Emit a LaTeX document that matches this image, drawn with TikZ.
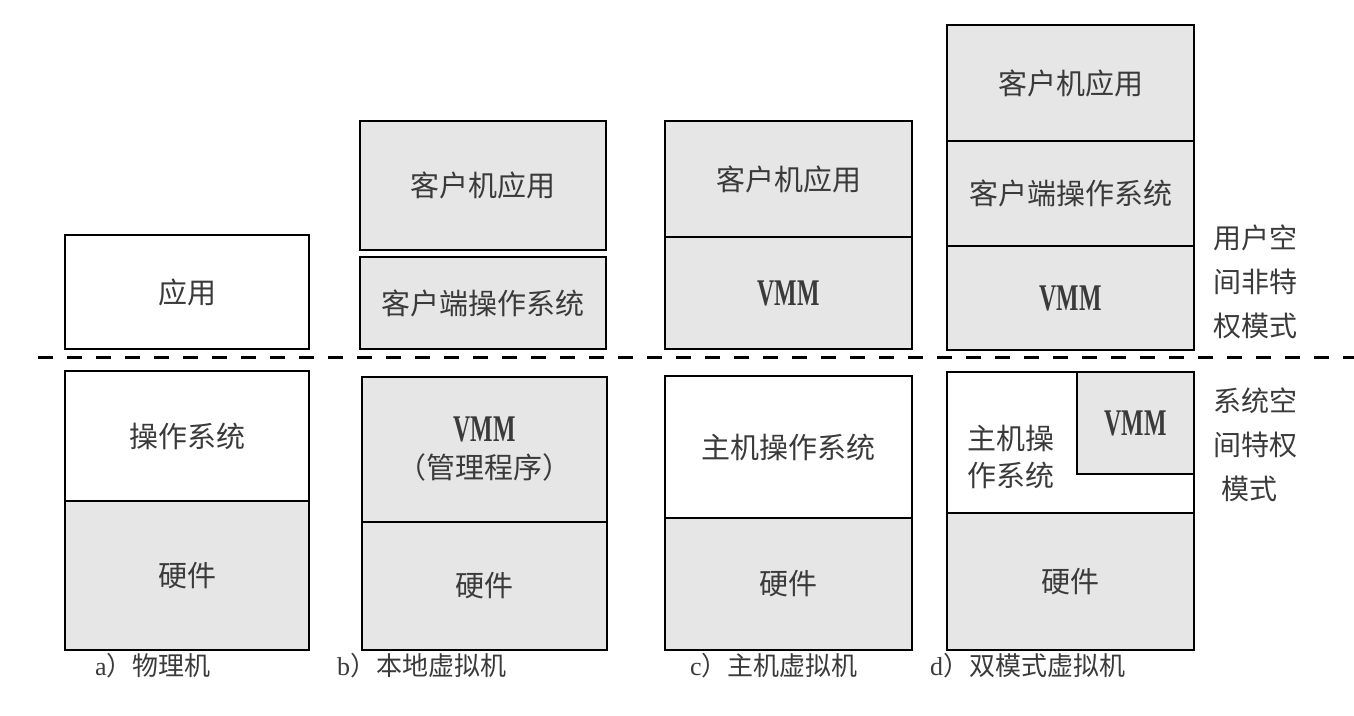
\documentclass[tikz,border=0pt]{standalone}
\usepackage{fontspec}
\setmainfont{Liberation Serif}
\newfontfamily\cjk{Noto Sans CJK SC}
\definecolor{boxgray}{HTML}{E6E6E6}
\definecolor{txt}{HTML}{3A3A3A}
\newcommand{\vmmtext}{{\rmfamily\bfseries\scalebox{0.82}[1.3]{VMM}}}
\begin{document}
\begin{tikzpicture}[x=1pt,y=-1pt,
  lay/.style={draw=black,line width=2pt,inner sep=0pt,outer sep=0pt,
    text=txt,font=\cjk\fontsize{29}{37}\selectfont,align=center},
  gbox/.style={lay,fill=boxgray},
  wbox/.style={lay,fill=white},
  side/.style={text=txt,font=\cjk\fontsize{28}{44}\selectfont,align=left,inner sep=0pt},
  captext/.style={text=txt,font=\fontsize{26}{30}\selectfont,anchor=west,inner sep=0pt}]
\useasboundingbox (0,0) rectangle (1354,715);
% a) physical machine
\node[wbox,minimum width=244pt,minimum height=114pt] (a1) at (187,292) {应用};
\node[wbox,minimum width=244pt,minimum height=130pt] (a2) at (187,436) {操作系统};
\node[gbox,minimum width=244pt,minimum height=149pt] (a3) at (187,575.5) {硬件};
% b) native VM
\node[gbox,minimum width=246pt,minimum height=129pt] (b1) at (483,185.5) {\raisebox{-8pt}{客户机应用}};
\node[gbox,minimum width=246pt,minimum height=92pt] (b2) at (483,303) {客户端操作系统};
\node[gbox,minimum width=245pt,minimum height=145pt] (b3) at (484.5,449.5) {\vmmtext\\（管理程序）};
\node[gbox,minimum width=245pt,minimum height=128pt] (b4) at (484.5,586) {硬件};
% c) hosted VM
\node[gbox,minimum width=247pt,minimum height=116pt] (c1) at (788.5,179) {\raisebox{-5pt}{客户机应用}};
\node[gbox,minimum width=247pt,minimum height=112pt] (c2) at (788.5,293) {\vmmtext};
\node[wbox,minimum width=247pt,minimum height=142pt] (c3) at (788.5,447) {主机操作系统};
\node[gbox,minimum width=247pt,minimum height=132pt] (c4) at (788.5,584) {硬件};
% d) dual-mode VM
\node[gbox,minimum width=247pt,minimum height=116pt] (d1) at (1070.5,83) {客户机应用};
\node[gbox,minimum width=247pt,minimum height=105pt] (d2) at (1070.5,193.5) {客户端操作系统};
\node[gbox,minimum width=247pt,minimum height=104pt] (d3) at (1070.5,298) {\vmmtext};
\node[wbox,minimum width=247pt,minimum height=141pt] (d4) at (1070.5,442.5) {};
\node[lay,draw=none,fill=none] (d4t) at (1011,457) {主机操\\作系统};
\node[gbox,minimum width=117pt,minimum height=102pt] (d5) at (1135.5,423) {\vmmtext};
\node[gbox,minimum width=247pt,minimum height=137pt] (d6) at (1070.5,581.5) {硬件};
% dashed separator
\coordinate (s1) at (38,357);
\coordinate (s2) at (1354,357);
\draw[line width=3pt,dash pattern=on 15pt off 14pt] (s1) -- (s2);
% side labels
\node[side,anchor=north west] (u) at (1213,225) {用户空\\间非特\\权模式};
\node[side,anchor=north west] (k) at (1213,388) {系统空\\间特权\\\hspace*{0.3em}模式};
% captions
\node[captext] (ca) at (95,666) {a{\cjk）物理机}};
\node[captext] (cb) at (337,666) {b{\cjk）本地虚拟机}};
\node[captext] (cc) at (690,666) {c{\cjk）主机虚拟机}};
\node[captext] (cd) at (930,666) {d{\cjk）双模式虚拟机}};
\end{tikzpicture}
\end{document}
